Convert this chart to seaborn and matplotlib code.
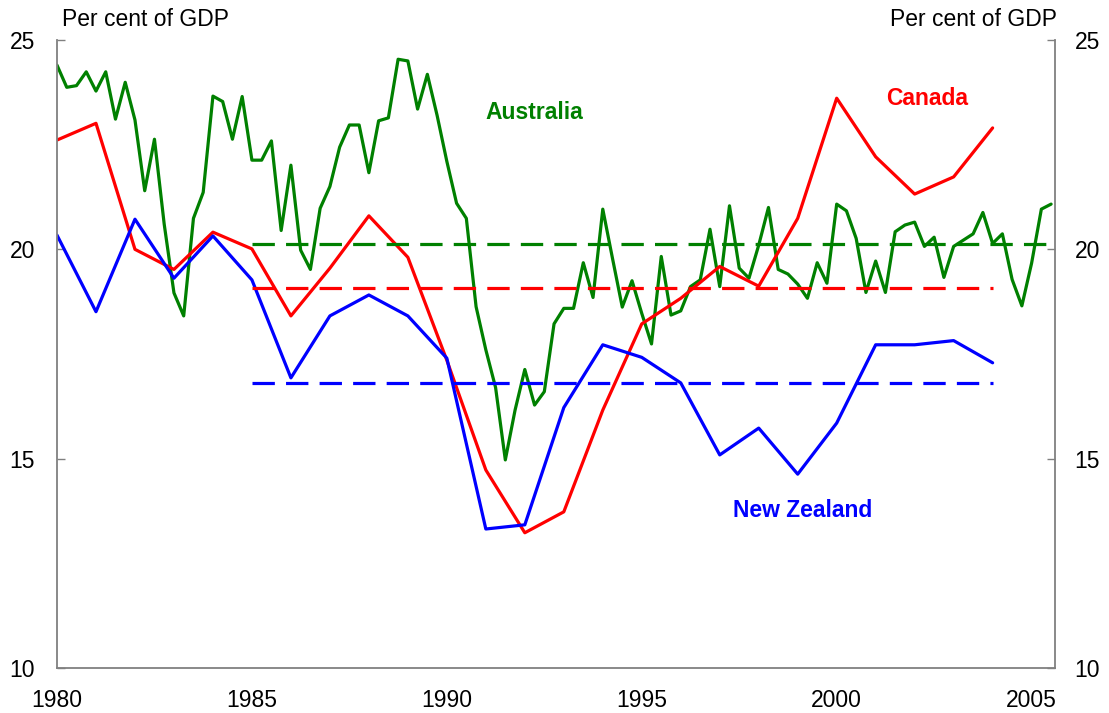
import matplotlib
matplotlib.use('Agg')
import matplotlib.pyplot as plt
import seaborn as sns
import numpy as np
import pandas as pd

# Australia, quarterly from 1980 Q1 (per cent of GDP)
aus_values = [24.40, 23.87, 23.91, 24.24, 23.78, 24.24, 23.11, 23.99,
              23.09, 21.40, 22.63, 20.60, 18.96, 18.41, 20.74, 21.36,
              23.66, 23.53, 22.63, 23.65, 22.13, 22.13, 22.59, 20.45,
              22.01, 19.98, 19.52, 20.98, 21.50, 22.44, 22.97, 22.97,
              21.83, 23.07, 23.14, 24.54, 24.50, 23.35, 24.18, 23.20,
              22.10, 21.10, 20.74, 18.63, 17.60, 16.70, 14.97, 16.16,
              17.13, 16.28, 16.60, 18.22, 18.59, 18.59, 19.68, 18.85,
              20.96, 19.78, 18.62, 19.25, 18.47, 17.74, 19.83, 18.43,
              18.53, 19.11, 19.27, 20.48, 19.11, 21.04, 19.55, 19.31,
              20.10, 21.00, 19.52, 19.41, 19.17, 18.83, 19.68, 19.19,
              21.08, 20.92, 20.26, 18.97, 19.72, 18.97, 20.42, 20.58,
              20.65, 20.07, 20.29, 19.33, 20.07, 20.22, 20.37, 20.88,
              20.14, 20.37, 19.28, 18.65, 19.67, 20.96, 21.08]
aus_years = 1980 + np.arange(len(aus_values)) / 4

# Canada and New Zealand, annual
years = list(range(1980, 2005))
can_values = [22.61, 23.01, 20.00, 19.52, 20.41, 20.01, 18.41, 19.55, 20.80,
              19.81, 17.35, 14.73, 13.23, 13.73, 16.16, 18.22, 18.83, 19.59,
              19.12, 20.74, 23.61, 22.21, 21.32, 21.73, 22.90]
nz_values = [20.34, 18.51, 20.72, 19.31, 20.32, 19.27, 16.93, 18.41, 18.91,
             18.41, 17.40, 13.32, 13.42, 16.22, 17.72, 17.42, 16.81, 15.09,
             15.73, 14.63, 15.85, 17.72, 17.72, 17.82, 17.29]

# averages since 1985
aus_mean, can_mean, nz_mean = 20.12, 19.08, 16.81
aus_mean_span = (1985, 2005.5)
can_mean_span = (1985, 2004)
nz_mean_span = (1985, 2004)

green, red, blue = '#008000', '#ff0000', '#0000ff'

sns.set_style('white')
plt.rcParams['font.family'] = ['Liberation Sans', 'DejaVu Sans']
plt.rcParams['text.color'] = 'black'
plt.rcParams['xtick.labelcolor'] = 'black'
plt.rcParams['ytick.labelcolor'] = 'black'

fig = plt.figure(figsize=(11.09, 7.13), dpi=100)
ax = fig.add_axes([57 / 1109, 1 - 668 / 713, (1055 - 57) / 1109, (668 - 40) / 713])

aus = pd.DataFrame({'year': aus_years, 'value': aus_values})
annual = pd.DataFrame({'year': years, 'Canada': can_values, 'New Zealand': nz_values})

lw = 2.3
sns.lineplot(data=aus, x='year', y='value', color=green, lw=lw, ax=ax)
sns.lineplot(data=annual, x='year', y='Canada', color=red, lw=lw, ax=ax)
sns.lineplot(data=annual, x='year', y='New Zealand', color=blue, lw=lw, ax=ax)

dash = (7, 3.5)
ax.plot(aus_mean_span, [aus_mean] * 2, color=green, lw=lw, dashes=dash)
ax.plot(can_mean_span, [can_mean] * 2, color=red, lw=lw, dashes=dash)
ax.plot(nz_mean_span, [nz_mean] * 2, color=blue, lw=lw, dashes=dash)

ax.set_xlim(1980, 2005.6)
ax.set_ylim(10, 25)
ax.set_xticks([1980, 1985, 1990, 1995, 2000, 2005])
ax.set_yticks([10, 15, 20, 25])
ax.set_xlabel('')
ax.set_ylabel('')

axis_grey = '#808080'
for side in ['left', 'right', 'bottom']:
    ax.spines[side].set_color(axis_grey)
    ax.spines[side].set_linewidth(1.3)
ax.spines['top'].set_visible(False)

ax.tick_params(axis='x', direction='in', length=7, width=1, color=axis_grey,
               labelsize=16.5, pad=15)
ax.tick_params(axis='y', direction='in', length=6, width=1, color=axis_grey,
               labelsize=16.5, pad=16)

ax2 = ax.twinx()
ax2.set_ylim(10, 25)
ax2.set_yticks([10, 15, 20, 25])
ax2.tick_params(axis='y', direction='in', length=6, width=1, color=axis_grey,
                labelsize=16.5, pad=14)
for side in ['left', 'right', 'bottom', 'top']:
    ax2.spines[side].set_visible(False)

ax.text(1991.0, 23.26, 'Australia', color=green, fontsize=16.5,
        fontweight='bold', va='center', ha='left')
ax.text(2001.26, 23.61, 'Canada', color=red, fontsize=16.5,
        fontweight='bold', va='center', ha='left')
ax.text(1997.33, 13.77, 'New Zealand', color=blue, fontsize=16.5,
        fontweight='bold', va='center', ha='left')

fig.text(62 / 1109, 1 - 20 / 713, 'Per cent of GDP', fontsize=16.5,
         va='center', ha='left')
fig.text(1057 / 1109, 1 - 20 / 713, 'Per cent of GDP', fontsize=16.5,
         va='center', ha='right')

fig.savefig('out.png', dpi=100)
